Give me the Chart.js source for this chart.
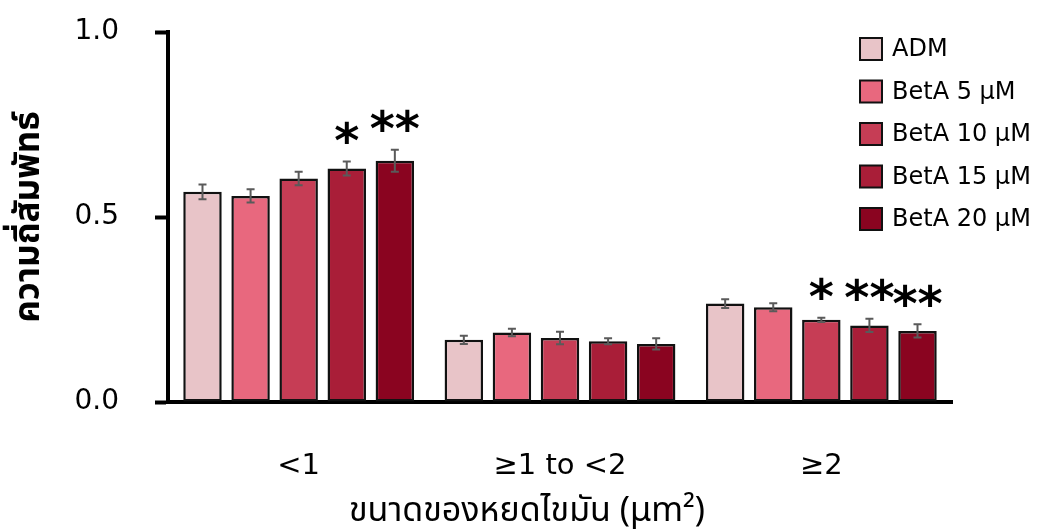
<!DOCTYPE html>
<html>
<head>
<meta charset="utf-8">
<script src="https://cdn.jsdelivr.net/npm/chart.js@4.4.1/dist/chart.umd.min.js"></script>
<style>
  html, body { margin: 0; padding: 0; background: #ffffff; }
  #wrap { width: 1038px; height: 531px; position: relative; }
</style>
</head>
<body>
<div id="wrap"><canvas id="chart" width="1038" height="531"></canvas></div>
<script>
// Lipid droplet size classes
const categories = ['<1', '≥1 to <2', '≥2'];

// Mean relative frequency per treatment
const admValues    = [0.568, 0.168, 0.266];
const beta5Values  = [0.557, 0.188, 0.256];
const beta10Values = [0.604, 0.173, 0.222];
const beta15Values = [0.631, 0.164, 0.207];
const beta20Values = [0.652, 0.157, 0.192];

// Error (± SEM)
const admErr    = [0.020, 0.011, 0.012];
const beta5Err  = [0.018, 0.010, 0.011];
const beta10Err = [0.018, 0.017, 0.006];
const beta15Err = [0.019, 0.008, 0.018];
const beta20Err = [0.030, 0.015, 0.018];

// Significance markers vs. ADM
const admSig    = ['', '', ''];
const beta5Sig  = ['', '', ''];
const beta10Sig = ['', '', '*'];
const beta15Sig = ['*', '', '**'];
const beta20Sig = ['**', '', '**'];

const seriesLabels = ['ADM', 'BetA 5 μM', 'BetA 10 μM', 'BetA 15 μM', 'BetA 20 μM'];
const seriesColors = ['#E8C4C8', '#E8687E', '#C63D55', '#A91E38', '#8A0420'];

const yTicks = [0, 0.5, 1.0];

const xTitle = 'ขนาดของหยดไขมัน (μm²)';
const yTitle = 'ความถี่สัมพัทธ์';

const valueSets = [admValues, beta5Values, beta10Values, beta15Values, beta20Values];
const errSets = [admErr, beta5Err, beta10Err, beta15Err, beta20Err];
const sigSets = [admSig, beta5Sig, beta10Sig, beta15Sig, beta20Sig];

const THAI_FONT = '"Noto Sans Thai", "Tahoma", "Leelawadee UI", "Noto Sans", "DejaVu Sans", sans-serif';
const BASE_FONT = '"DejaVu Sans", "Noto Sans", sans-serif';

const datasets = seriesLabels.map((label, i) => ({
  label: label,
  data: valueSets[i],
  errors: errSets[i],
  sig: sigSets[i],
  backgroundColor: seriesColors[i],
  borderColor: '#111111',
  borderWidth: 2.5,
  borderSkipped: false,
  categoryPercentage: 0.92,
  barPercentage: 0.8
}));

// Error bars and significance stars drawn from the data through the scales
const errorBarPlugin = {
  id: 'errorBars',
  afterDatasetsDraw(chart) {
    const ctx = chart.ctx;
    const yScale = chart.scales.y;
    ctx.save();
    chart.data.datasets.forEach((ds, di) => {
      const meta = chart.getDatasetMeta(di);
      meta.data.forEach((bar, i) => {
        const v = ds.data[i];
        const e = ds.errors[i];
        const x = bar.x;
        const yHi = yScale.getPixelForValue(v + e);
        const yLo = yScale.getPixelForValue(v - e);
        ctx.strokeStyle = '#5a5a5a';
        ctx.lineWidth = 2;
        ctx.beginPath();
        ctx.moveTo(x, yHi); ctx.lineTo(x, yLo);
        ctx.moveTo(x - 4, yHi); ctx.lineTo(x + 4, yHi);
        ctx.moveTo(x - 4, yLo); ctx.lineTo(x + 4, yLo);
        ctx.stroke();

        const s = ds.sig[i];
        if (s) {
          ctx.font = 'bold 48px ' + BASE_FONT;
          ctx.fillStyle = '#000000';
          ctx.textAlign = 'center';
          ctx.textBaseline = 'alphabetic';
          const m = ctx.measureText(s);
          const asc = m.actualBoundingBoxAscent, desc = m.actualBoundingBoxDescent;
          const cy = yHi - 29;
          ctx.fillText(s, x, cy + (asc - desc) / 2);
        }
      });
    });
    ctx.restore();
  }
};

// Legend box at the upper right, inside the plot, and the x-axis caption
const legendPlugin = {
  id: 'boxLegend',
  afterDraw(chart) {
    const ctx = chart.ctx;
    ctx.save();
    const x0 = 860, y0 = 38, step = 42.5, box = 22;
    chart.data.datasets.forEach((ds, i) => {
      const y = y0 + i * step;
      ctx.fillStyle = ds.backgroundColor;
      ctx.fillRect(x0, y, box, box);
      ctx.strokeStyle = '#111111';
      ctx.lineWidth = 2;
      ctx.strokeRect(x0, y, box, box);
      ctx.fillStyle = '#000000';
      ctx.font = '24px ' + BASE_FONT;
      ctx.textAlign = 'left';
      ctx.textBaseline = 'middle';
      ctx.fillText(ds.label, x0 + 32, y + box / 2 + 1);
    });

    ctx.fillStyle = '#000000';
    ctx.font = '34px ' + THAI_FONT;
    ctx.textAlign = 'center';
    ctx.textBaseline = 'middle';
    ctx.fillText(xTitle, 527, 514);
    ctx.restore();
  }
};

new Chart(document.getElementById('chart'), {
  type: 'bar',
  data: { labels: categories, datasets: datasets },
  options: {
    responsive: false,
    animation: false,
    devicePixelRatio: 1,
    layout: { padding: { top: 32, right: 86, left: 0, bottom: 0 } },
    plugins: {
      legend: { display: false },
      tooltip: { enabled: false }
    },
    scales: {
      x: {
        grid: { display: false, drawTicks: false },
        border: { display: true, color: '#000000', width: 4 },
        ticks: {
          color: '#000000',
          font: { family: BASE_FONT, size: 29 },
          padding: 47
        },
        afterFit(scale) { scale.height = 129; }
      },
      y: {
        min: 0,
        max: 1,
        afterBuildTicks(scale) { scale.ticks = yTicks.map(v => ({ value: v })); },
        grid: {
          drawOnChartArea: false,
          drawTicks: true,
          tickLength: 13,
          tickWidth: 4,
          tickColor: '#000000'
        },
        border: { display: true, color: '#000000', width: 4 },
        ticks: {
          color: '#000000',
          font: { family: BASE_FONT, size: 28 },
          padding: 36,
          callback: v => Number(v).toFixed(1)
        },
        title: {
          display: true,
          text: yTitle,
          color: '#000000',
          font: { family: THAI_FONT, size: 35, weight: 'bold' },
          padding: { top: 11, bottom: 0 }
        },
        afterFit(scale) {
          scale.width = 168;
          scale.paddingTop = 0;
          scale.paddingBottom = 0;
        }
      }
    }
  },
  plugins: [errorBarPlugin, legendPlugin]
});
</script>
</body>
</html>
